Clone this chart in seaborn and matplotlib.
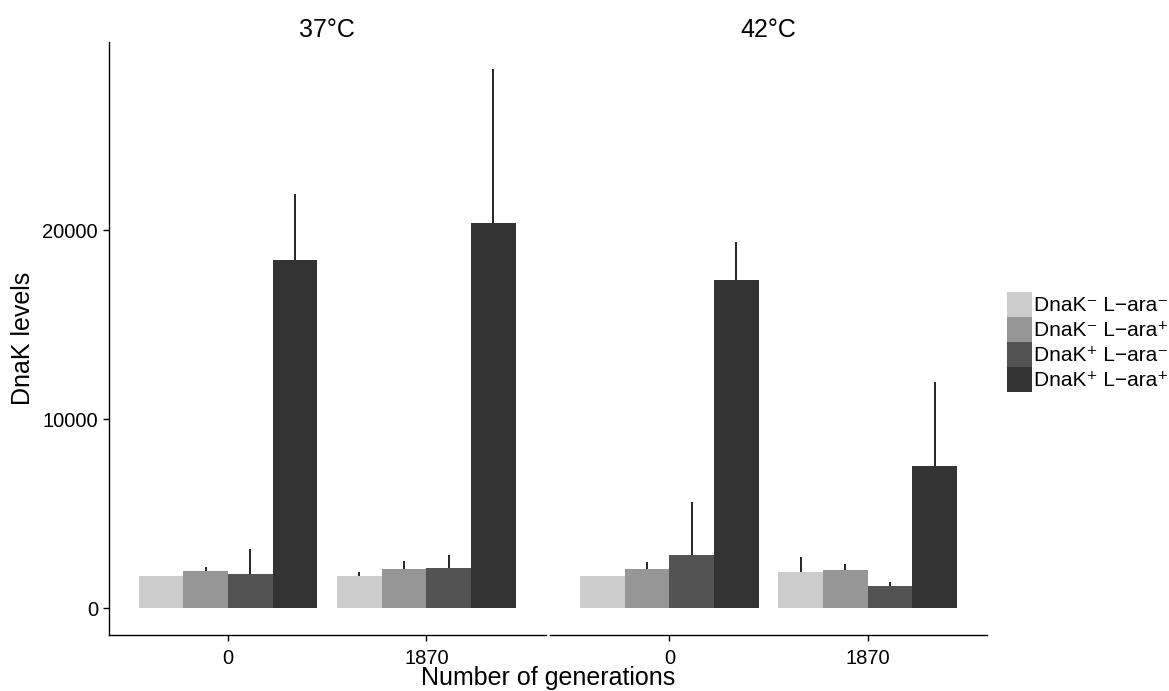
import pandas as pd
import seaborn as sns
import matplotlib
matplotlib.use("Agg")
import matplotlib.pyplot as plt

# values
temps = ["37°C", "42°C"]
generations = ["0", "1870"]
strains = ["DnaK⁻ L−ara⁻", "DnaK⁻ L−ara⁺", "DnaK⁺ L−ara⁻", "DnaK⁺ L−ara⁺"]
greys = ["#cccccc", "#969696", "#535353", "#333333"]

# mean DnaK level, per temperature / generation, in strain order
mean_37_g0 = [1670, 1980, 1820, 18440]
mean_37_g1870 = [1720, 2090, 2140, 20370]
mean_42_g0 = [1670, 2090, 2830, 17380]
mean_42_g1870 = [1930, 2040, 1190, 7540]
# upper end of the error bar
upper_37_g0 = [1700, 2160, 3110, 21930]
upper_37_g1870 = [1910, 2510, 2830, 28530]
upper_42_g0 = [1720, 2440, 5600, 19370]
upper_42_g1870 = [2690, 2350, 1400, 11950]

rows = []
blocks = [("37°C", "0", mean_37_g0, upper_37_g0),
          ("37°C", "1870", mean_37_g1870, upper_37_g1870),
          ("42°C", "0", mean_42_g0, upper_42_g0),
          ("42°C", "1870", mean_42_g1870, upper_42_g1870)]
for t, g, m, u in blocks:
    for s, mv, uv in zip(strains, m, u):
        rows.append({"temp": t, "generation": g, "strain": s, "mean": mv, "upper": uv})
df = pd.DataFrame(rows)

sns.set_style("ticks")
plt.rcParams["font.family"] = ["Liberation Sans", "DejaVu Sans"]
for k in ["text.color", "axes.labelcolor", "xtick.color", "ytick.color", "axes.edgecolor"]:
    plt.rcParams[k] = "black"

W, H = 1169, 691
fig = plt.figure(figsize=(W / 100, H / 100), dpi=100)
top, bottom = 42, 635
pw = 436.5
ax_l = fig.add_axes([109 / W, 1 - bottom / H, pw / W, (bottom - top) / H])
ax_r = fig.add_axes([550.3 / W, 1 - bottom / H, pw / W, (bottom - top) / H])

pal = dict(zip(strains, greys))
for ax, t in zip([ax_l, ax_r], temps):
    sub = df[df["temp"] == t]
    sns.barplot(data=sub, x="generation", y="mean", hue="strain",
                order=generations, hue_order=strains, palette=pal,
                width=0.9, errorbar=None, saturation=1, linewidth=0, ax=ax,
                legend=(ax is ax_l))
    # upper-only error bars, no caps
    for s, cont in zip(strains, ax.containers):
        for g, bar in zip(generations, cont):
            r = sub[(sub["strain"] == s) & (sub["generation"] == g)].iloc[0]
            xc = bar.get_x() + bar.get_width() / 2
            ax.vlines(xc, r["mean"], r["upper"], color="black", lw=1.2, zorder=1)
    ax.set_xlim(-0.6, 1.6)
    ax.set_ylim(-1426, 29956)
    ax.set_xlabel("")
    ax.set_ylabel("")
    ax.set_title(t, fontsize=18, pad=3)
    ax.tick_params(axis="x", length=4, width=1, pad=6, labelsize=14.5)
    for sp in ["top", "right"]:
        ax.spines[sp].set_visible(False)
    ax.spines["bottom"].set_linewidth(1.0)

ax_l.set_yticks([0, 10000, 20000])
ax_l.tick_params(axis="y", length=4, width=1, pad=4, labelsize=14.5)
ax_l.spines["left"].set_linewidth(1.0)
ax_r.spines["left"].set_visible(False)
ax_r.set_yticks([])

handles, labels = ax_l.get_legend_handles_labels()
ax_l.get_legend().remove()
fig.legend(handles, labels, loc="upper left", bbox_to_anchor=(1007 / W, 1 - 292 / H),
           frameon=False, fontsize=15, borderpad=0, borderaxespad=0,
           handlelength=1.2, handleheight=1.47, handletextpad=0.12, labelspacing=0)

fig.text(23 / W, 1 - 338.5 / H, "DnaK levels", rotation=90, ha="center", va="center", fontsize=18)
fig.text(548 / W, 1 - 685 / H, "Number of generations", ha="center", va="baseline", fontsize=18)

fig.savefig("out.png", dpi=100)
